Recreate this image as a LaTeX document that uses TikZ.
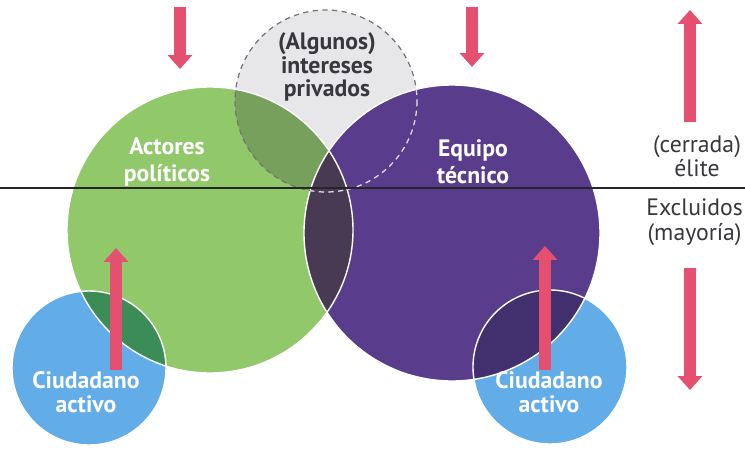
\documentclass[tikz,border=0pt]{standalone}
\usepackage{fontspec}
\setmainfont{PT Sans}
\usetikzlibrary{arrows.meta}

\definecolor{verde}{RGB}{145,201,106}
\definecolor{verdegris}{RGB}{118,160,92}
\definecolor{morado}{RGB}{90,60,140}
\definecolor{lente}{RGB}{72,58,82}
\definecolor{gris}{RGB}{231,231,234}
\definecolor{azul}{RGB}{98,172,232}
\definecolor{verdeosc}{RGB}{60,140,88}
\definecolor{moradoosc}{RGB}{66,48,110}
\definecolor{rosa}{RGB}{230,80,112}
\definecolor{texto}{RGB}{55,55,60}

\tikzset{
  flecha/.style={draw=rosa, line width=0.24cm, -{Triangle[width=0.48cm, length=0.28cm]}},
  etiqueta/.style={font=\bfseries\fontsize{13.5}{15.5}\selectfont, align=center, text=white},
  lateral/.style={font=\fontsize{13.5}{14}\selectfont, align=center, text=texto},
  borde/.style={draw=white, line width=0.8pt}
}

\begin{document}
\begin{tikzpicture}[x=0.02cm, y=-0.02cm]
  \useasboundingbox (0,0) rectangle (745,450);

  % centros de los circulos
  \coordinate (cverde)  at (210,230);
  \coordinate (cmorado) at (452,233);
  \coordinate (cgris)   at (326,101);
  \coordinate (cazulA)  at (89,368);
  \coordinate (cazulB)  at (550,367);
  \def\rverde{143}
  \def\rmorado{148}
  \def\rgris{91}
  \def\razul{77}

  % circulos base
  \fill[gris]   (cgris)   circle (\rgris);
  \fill[verde]  (cverde)  circle (\rverde);
  \fill[morado] (cmorado) circle (\rmorado);

  % intereses privados sobre los actores
  \begin{scope}
    \clip (cgris) circle (\rgris);
    \fill[verdegris] (cverde) circle (\rverde);
  \end{scope}

  % lente entre actores y equipo
  \begin{scope}
    \clip (cverde) circle (\rverde);
    \fill[lente] (cmorado) circle (\rmorado);
  \end{scope}

  % ciudadanos activos
  \fill[azul] (cazulA) circle (\razul);
  \fill[azul] (cazulB) circle (\razul);
  \begin{scope}
    \clip (cazulA) circle (\razul);
    \fill[verdeosc] (cverde) circle (\rverde);
  \end{scope}
  \begin{scope}
    \clip (cazulB) circle (\razul);
    \fill[moradoosc] (cmorado) circle (\rmorado);
  \end{scope}

  % bordes blancos
  \draw[borde] (cverde) circle (\rverde);
  \draw[borde] (cmorado) circle (\rmorado);
  \draw[borde] (cazulA) circle (\razul);
  \draw[borde] (cazulB) circle (\razul);

  % borde discontinuo
  \draw[texto!70, line width=0.7pt, dash pattern=on 3pt off 2.5pt] (cgris) circle (\rgris);
  \begin{scope}
    \clip (cmorado) circle (\rmorado);
    \draw[white!80!morado, line width=0.7pt, dash pattern=on 3pt off 2.5pt] (cgris) circle (\rgris);
  \end{scope}

  % linea divisoria
  \coordinate (lineaI) at (0,188);
  \coordinate (lineaD) at (745,188);
  \draw[black!85, line width=1.1pt] (lineaI) -- (lineaD);

  % textos
  \node (actores)  [etiqueta] at (167,162) {Actores\\políticos};
  \node (equipo)   [etiqueta] at (473,162) {Equipo\\técnico};
  \node (privados) [etiqueta, text=texto, font=\bfseries\fontsize{13.5}{13.5}\selectfont]
                   at (327,67) {(Algunos)\\intereses\\privados};
  \node (ciudA)    [etiqueta, font=\bfseries\fontsize{13.5}{14}\selectfont] at (86,392) {Ciudadano\\activo};
  \node (ciudB)    [etiqueta, font=\bfseries\fontsize{13.5}{14}\selectfont] at (549,392) {Ciudadano\\activo};
  \node (elite)    [lateral] at (697,156) {(cerrada)\\élite};
  \node (excl)     [lateral, anchor=east, inner sep=1pt] at (745,222) {Excluidos\\(mayoría)};

  % flechas
  \coordinate (fA1) at (180,7);   \coordinate (fA2) at (180,69);
  \coordinate (fB1) at (472,7);   \coordinate (fB2) at (472,67);
  \coordinate (fC1) at (690,122); \coordinate (fC2) at (690,10);
  \coordinate (fD1) at (690,268); \coordinate (fD2) at (690,390);
  \coordinate (fE1) at (116,370); \coordinate (fE2) at (116,248);
  \coordinate (fF1) at (545,370); \coordinate (fF2) at (545,246);
  \foreach \a/\b in {fA1/fA2, fB1/fB2, fC1/fC2, fD1/fD2, fE1/fE2, fF1/fF2}
    \draw[flecha] (\a) -- (\b);
\end{tikzpicture}
\end{document}
